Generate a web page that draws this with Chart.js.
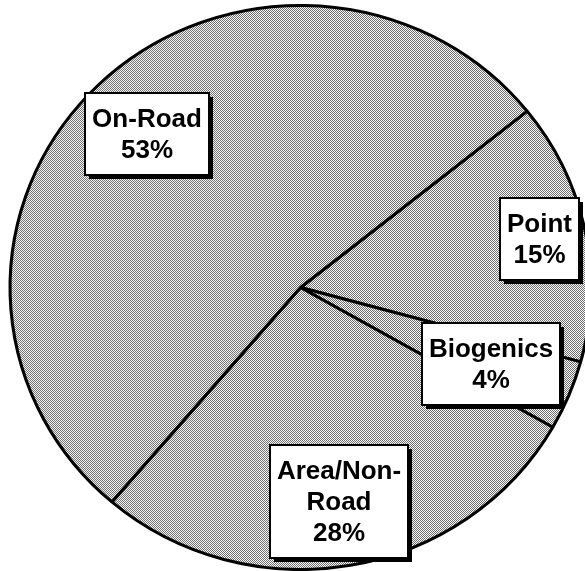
<!DOCTYPE html>
<html>
<head>
<meta charset="utf-8">
<script src="https://cdn.jsdelivr.net/npm/chart.js@4.4.1/dist/chart.umd.min.js"></script>
<style>
    html, body { margin: 0; padding: 0; background: #fff; overflow: hidden; }
    #wrap { position: relative; width: 585px; height: 571px; }
</style>
</head>
<body>
<div id="wrap"><canvas id="pieChart"></canvas></div>
<script>
// Slices in clockwise order, starting at the upper-right boundary
const categories = ['Point', 'Biogenics', 'Area/Non-Road', 'On-Road'];
const labelLines = [['Point'], ['Biogenics'], ['Area/Non-', 'Road'], ['On-Road']];
const shares = [15, 4, 28, 53];

// how far out each label box sits (fraction of radius)
const labelRadius = [0.84, 0.71, 0.77, 0.76];

const stretchX = 1.03; // original pie is a little wider than tall
const startRotation = 51.3;

function makeDither(ctx) {
    const c = document.createElement('canvas');
    c.width = 2;
    c.height = 2;
    const g = c.getContext('2d');
    g.fillStyle = '#fafafa';
    g.fillRect(0, 0, 2, 2);
    g.fillStyle = '#6e6e6e';
    g.fillRect(0, 0, 1, 1);
    g.fillRect(1, 1, 1, 1);
    return ctx.createPattern(c, 'repeat');
}

const stretchPlugin = {
    id: 'stretch',
    beforeDatasetsDraw(chart) {
        const ctx = chart.ctx;
        const cx = (chart.chartArea.left + chart.chartArea.right) / 2;
        ctx.save();
        ctx.translate(cx, 0);
        ctx.scale(stretchX, 1);
        ctx.translate(-cx, 0);
    },
    afterDatasetsDraw(chart) {
        chart.ctx.restore();
    }
};

const labelPlugin = {
    id: 'boxLabels',
    afterDraw(chart) {
        const ctx = chart.ctx;
        const arcs = chart.getDatasetMeta(0).data;
        const lineH = 31;
        const padX = 7;
        const padY = 10;
        ctx.save();
        ctx.font = 'bold 26px "Liberation Sans", Arial, sans-serif';
        ctx.textAlign = 'center';
        ctx.textBaseline = 'middle';
        arcs.forEach((arc, i) => {
            const mid = (arc.startAngle + arc.endAngle) / 2;
            const r = arc.outerRadius * labelRadius[i];
            const x = arc.x + Math.cos(mid) * r * stretchX;
            const y = arc.y + Math.sin(mid) * r;
            const lines = labelLines[i].concat([shares[i] + '%']);
            let w = 0;
            lines.forEach(t => { w = Math.max(w, ctx.measureText(t).width); });
            const bw = Math.round(w + padX * 2);
            const bh = lines.length * lineH + padY * 2;
            const bx = Math.round(x - bw / 2);
            const by = Math.round(y - bh / 2);

            // drop shadow
            ctx.fillStyle = '#000';
            ctx.fillRect(bx + 4, by + 4, bw, bh);
            ctx.fillStyle = '#fff';
            ctx.fillRect(bx, by, bw, bh);
            ctx.lineWidth = 2;
            ctx.strokeStyle = '#000';
            ctx.strokeRect(bx, by, bw, bh);

            ctx.fillStyle = '#000';
            lines.forEach((t, j) => {
                ctx.fillText(t, bx + bw / 2, by + padY + lineH * j + lineH / 2 + 1);
            });
        });
        ctx.restore();
    }
};

const canvas = document.getElementById('pieChart');
const ctx = canvas.getContext('2d');

const dither = makeDither(ctx);
// undo the stretch for the fill so the dots stay on whole pixels
const cxGuess = 300.5;
dither.setTransform(new DOMMatrix().translate(cxGuess, 0).scale(1 / stretchX, 1).translate(-cxGuess, 0));

new Chart(ctx, {
    type: 'pie',
    data: {
        labels: categories,
        datasets: [{
            data: shares,
            backgroundColor: dither,
            borderColor: '#000',
            borderWidth: 3
        }]
    },
    options: {
        responsive: true,
        maintainAspectRatio: false,
        animation: false,
        events: [],
        rotation: startRotation,
        layout: { padding: { left: 17, top: 4, right: 1, bottom: 0 } },
        plugins: {
            legend: { display: false },
            tooltip: { enabled: false }
        }
    },
    plugins: [stretchPlugin, labelPlugin]
});
</script>
</body>
</html>
